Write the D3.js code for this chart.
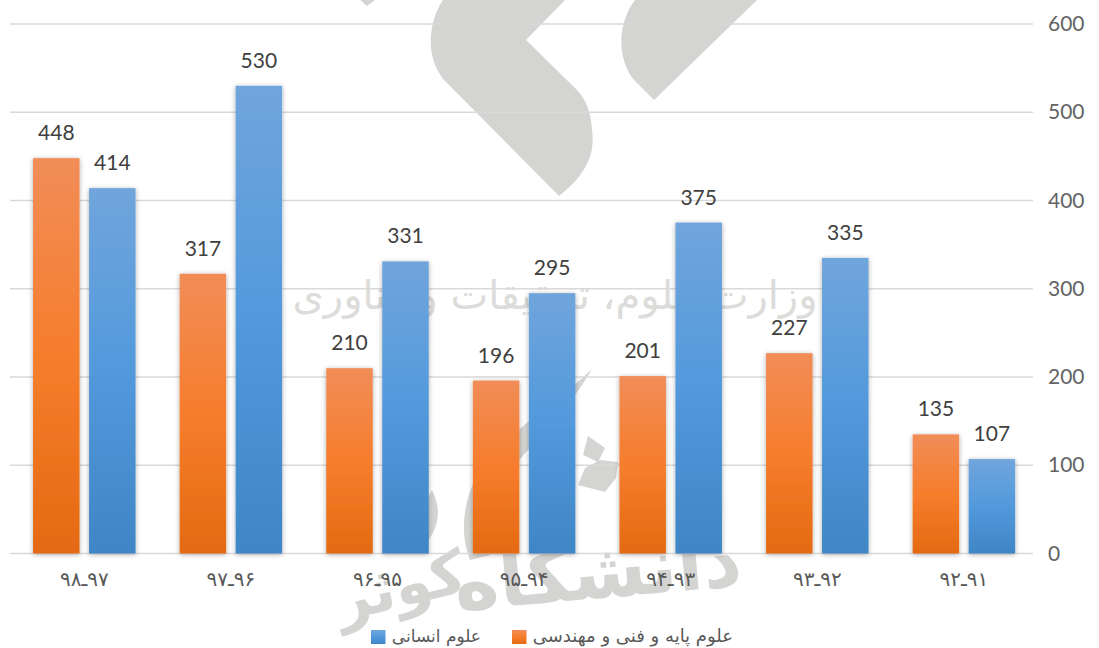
<!DOCTYPE html>
<html><head><meta charset="utf-8">
<script src="https://cdn.jsdelivr.net/npm/d3@7/dist/d3.min.js"></script>
<style>
html,body{margin:0;padding:0;background:#fff}
svg{display:block}
.farsi{font-family:"DejaVu Sans",sans-serif}
.num{font-family:Lato,sans-serif}
</style></head><body>
<svg id="c" width="1099" height="648"></svg>
<script>
const categories = ["۹۸ـ۹۷","۹۷ـ۹۶","۹۶ـ۹۵","۹۵ـ۹۴","۹۴ـ۹۳","۹۳ـ۹۲","۹۲ـ۹۱"];
const engineering = [448,317,210,196,201,227,135];
const humanities = [414,530,331,295,375,335,107];
const yTicks = [0,100,200,300,400,500,600];
const seriesNames = ["علوم پایه و فنی و مهندسی","علوم انسانی"];
const watermarkTop = "وزارت علوم، تحقیقات و فناوری";
const watermarkUniversity = "دانشگاه";
const watermarkName = "کوثر";

const svg = d3.select("#c");
const x = d3.scaleBand().domain(categories).range([11,1037.2]).paddingInner(0).paddingOuter(0);
const y = d3.scaleLinear().domain([0,600]).range([553.5,24]);
const barW = 46.5, gap = 9.5;

const defs = svg.append("defs");
function grad(id,stops){
  const g = defs.append("linearGradient").attr("id",id).attr("x1",0).attr("y1",0).attr("x2",0).attr("y2",1);
  stops.forEach(s=>g.append("stop").attr("offset",s[0]).attr("stop-color",s[1]));
}
grad("gO",[[0,"#f18d58"],[0.5,"#f67d2c"],[1,"#e46a12"]]);
grad("gB",[[0,"#70a5dc"],[0.5,"#5299dc"],[1,"#3f86c6"]]);
const f = defs.append("filter").attr("id","sh").attr("x","-30%").attr("y","-10%").attr("width","160%").attr("height","120%");
f.append("feDropShadow").attr("dx",0).attr("dy",1).attr("stdDeviation",2.6).attr("flood-color","#000").attr("flood-opacity",0.33);

// watermark
const wm = svg.append("g").attr("fill","#d4d4d2");
wm.append("path").attr("d","M443,0 C428,22 424,60 447,83 L559,196 C582,178 596,158 592,130 C591,112 586,100 577,90 L526,40 L565,0 Z");
wm.append("path").attr("d","M635,0 C618,22 616,58 634,80 L654,100 L757,0 Z");
wm.append("path").attr("d","M360,0 L367,6 L375,0 Z");
wm.append("path").attr("d","M592,369 C560,400 510,430 480,470 C465,495 458,530 470,560 L490,555 C482,520 490,490 515,465 C545,430 575,400 592,369 Z");
wm.append("path").attr("d","M588,436 L605,448 L598,462 L583,455 Z M618,462 L616,478 L605,492 L578,485 L585,468 L600,460 Z");
wm.append("path").attr("d","M432,490 C442,510 440,530 420,550 L412,530 Z");
wm.append("text").attr("class","farsi").attr("x",555).attr("y",309).attr("text-anchor","middle")
  .attr("font-size",40).attr("fill","#dcdcda").text(watermarkTop);
wm.append("text").attr("class","farsi").attr("transform","translate(600,598) rotate(-5)").attr("text-anchor","middle")
  .attr("font-size",76).attr("font-weight","bold").text(watermarkUniversity);
wm.append("text").attr("class","farsi").attr("transform","translate(405,606) rotate(-14)").attr("text-anchor","middle")
  .attr("font-size",60).attr("font-weight","bold").text(watermarkName);

// gridlines
svg.append("g").selectAll("line").data(yTicks).join("line")
  .attr("x1",10).attr("x2",1033).attr("y1",d=>y(d)).attr("y2",d=>y(d))
  .attr("stroke","#d9d9d9").attr("stroke-width",1.6);

// bars
const groups = svg.append("g").selectAll("g").data(categories).join("g")
  .attr("transform",d=>`translate(${x(d)+x.bandwidth()/2},0)`);
function bars(vals,fill,off,cls){
  groups.append("rect").attr("class",cls)
    .attr("x",off).attr("width",barW)
    .attr("y",d=>y(vals[categories.indexOf(d)]))
    .attr("height",d=>y(0)-y(vals[categories.indexOf(d)]))
    .attr("fill",fill).attr("filter","url(#sh)");
  groups.append("text").attr("class","num")
    .attr("x",off+barW/2)
    .attr("y",d=>y(vals[categories.indexOf(d)])-18)
    .attr("text-anchor","middle").attr("font-size",21).attr("fill","#404040")
    .text(d=>vals[categories.indexOf(d)]);
}
bars(engineering,"url(#gO)",-barW-gap/2,"o");
bars(humanities,"url(#gB)",gap/2,"b");

// axes
const ya = svg.append("g").attr("transform","translate(1048,0)")
  .call(d3.axisRight(y).tickValues(yTicks).tickSize(0).tickPadding(0));
ya.select(".domain").remove();
ya.selectAll("text").attr("class","num").attr("font-family","Lato,sans-serif").attr("font-size",21).attr("fill","#636363");

const xa = svg.append("g").attr("transform","translate(0,572)")
  .call(d3.axisBottom(x).tickSize(0).tickPadding(0));
xa.select(".domain").remove();
xa.selectAll("text").attr("class","farsi").attr("font-family","'DejaVu Sans',sans-serif").attr("font-size",20).attr("fill","#595959")
  .style("direction","ltr").style("unicode-bidi","bidi-override").style("letter-spacing","3px");

// legend
const leg = svg.append("g");
const legendItems = [
  {name:seriesNames[1],fill:"url(#gB)",sx:371,tx:481,size:17},
  {name:seriesNames[0],fill:"url(#gO)",sx:512,tx:733,size:18}
];
leg.selectAll("rect").data(legendItems).join("rect")
  .attr("x",d=>d.sx).attr("y",630).attr("width",14.5).attr("height",14).attr("fill",d=>d.fill);
leg.selectAll("text").data(legendItems).join("text").attr("class","farsi")
  .attr("x",d=>d.tx).attr("y",642).attr("text-anchor","end").attr("font-size",d=>d.size).attr("fill","#595959")
  .text(d=>d.name);
</script>
</body></html>
